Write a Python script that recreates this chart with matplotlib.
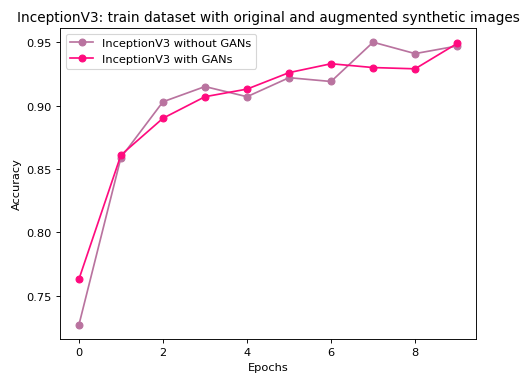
import matplotlib
matplotlib.use("Agg")
import matplotlib.pyplot as plt

epochs = list(range(10))
acc_without = [0.727, 0.859, 0.903, 0.915, 0.907, 0.922, 0.919, 0.950, 0.941, 0.947]
acc_with = [0.763, 0.861, 0.890, 0.907, 0.913, 0.926, 0.933, 0.930, 0.929, 0.949]

# reference looks like a default figure rendered at ~82 dpi
dpi = 82
fig = plt.figure(figsize=(524 / dpi, 376 / dpi), dpi=dpi)
ax = fig.add_axes([0.1145, 0.0957, 0.794, 0.827])

ax.plot(epochs, acc_without, marker='o', color='#b9739f', label='InceptionV3 without GANs')
ax.plot(epochs, acc_with, marker='o', color='#ff0a7e', label='InceptionV3 with GANs')

ax.set_title('InceptionV3: train dataset with original and augmented synthetic images')
ax.set_xlabel('Epochs')
ax.set_ylabel('Accuracy')
ax.legend(loc='upper left')

fig.savefig('out.png', dpi=dpi)
